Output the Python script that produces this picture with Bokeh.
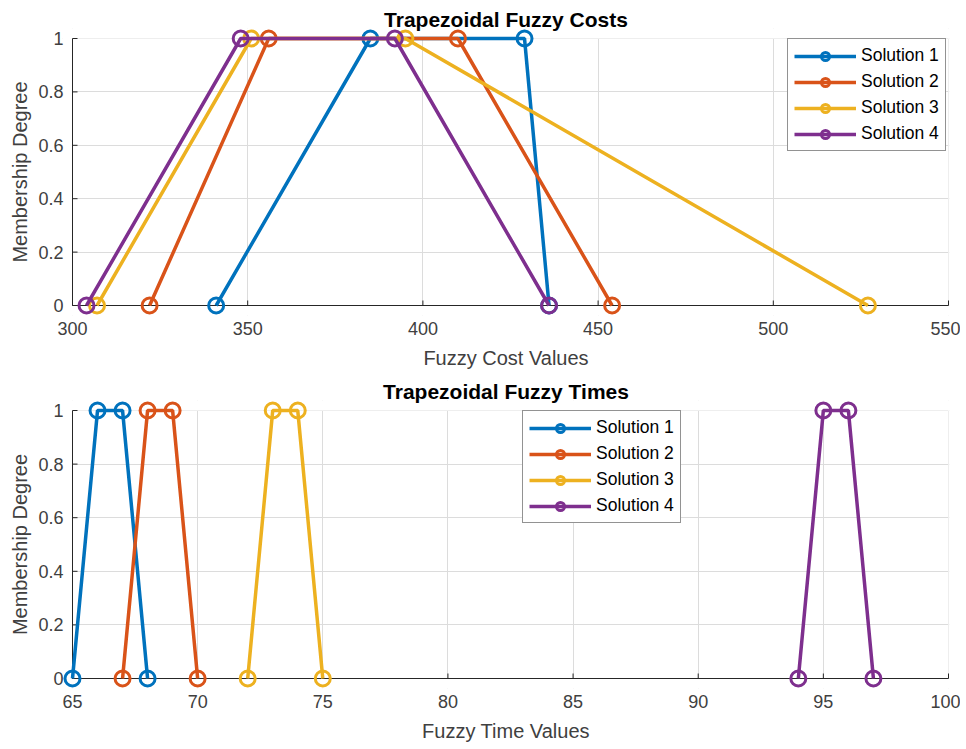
from bokeh.plotting import figure
from bokeh.models import Range1d, FixedTicker, Legend, LegendItem, BoxAnnotation
from bokeh.layouts import column
from bokeh.embed import file_html
from bokeh.resources import INLINE

# ---------------- data ----------------
solutions = ["Solution 1", "Solution 2", "Solution 3", "Solution 4"]
colors = ["#0072BD", "#D95319", "#EDB120", "#7E2F8E"]
membership = [0, 1, 1, 0]

cost_s1 = [341, 385, 429, 436]
cost_s2 = [322, 356, 410, 454]
cost_s3 = [307, 351, 395, 527]
cost_s4 = [304, 348, 392, 436]

time_s1 = [65, 66, 67, 68]
time_s2 = [67, 68, 69, 70]
time_s3 = [72, 73, 74, 75]
time_s4 = [94, 95, 96, 97]

cost_ticks = [300, 350, 400, 450, 500, 550]
time_ticks = [65, 70, 75, 80, 85, 90, 95, 100]
y_ticks = [0, 0.2, 0.4, 0.6, 0.8, 1]
y_tick_labels = ["0", "0.2", "0.4", "0.6", "0.8", "1"]

FONT = "Liberation Sans"
W = 960
B_LEFT, B_RIGHT = 62, 11
PAD = 10          # px of room around the axes so markers are not cut
RPAD = 1          # px right of the last tick so its grid line is drawn
TICK = 5          # px length of inward ticks
AX = "#262626"


def make_panel(title, series, xticks, xlabel, height, b_top, b_bottom, legend_xy):
    fw = W - B_LEFT - B_RIGHT
    fh = height - b_top - b_bottom
    xmin, xmax = xticks[0], xticks[-1]
    xunit = (xmax - xmin) / (fw - PAD - RPAD)
    yunit = 1.0 / (fh - 2 * PAD)
    p = figure(width=W, height=height,
               x_range=Range1d(xmin - PAD * xunit, xmax + RPAD * xunit),
               y_range=Range1d(-PAD * yunit, 1 + PAD * yunit),
               output_backend="svg", toolbar_location=None,
               min_border_left=B_LEFT, min_border_right=B_RIGHT,
               min_border_top=b_top, min_border_bottom=b_bottom)
    p.outline_line_color = None

    p.title.text = title
    p.title.align = "center"
    p.title.offset = 5
    p.title.text_font = FONT
    p.title.text_font_size = "21px"
    p.title.text_font_style = "bold"
    p.title.text_color = "#000000"
    p.title.standoff = -5
    p.title.text_line_height = 1.0

    for ax in (p.xaxis[0], p.yaxis[0]):
        ax.axis_line_color = None
        ax.major_tick_line_color = None
        ax.minor_tick_line_color = None
        ax.major_tick_in = 0
        ax.major_tick_out = 0
        ax.major_label_text_font = FONT
        ax.major_label_text_font_size = "18px"
        ax.major_label_text_color = "#404040"
        ax.axis_label_text_font = FONT
        ax.axis_label_text_font_size = "20px"
        ax.axis_label_text_font_style = "normal"
        ax.axis_label_text_color = "#404040"

    p.xaxis.ticker = FixedTicker(ticks=xticks)
    p.xaxis.major_label_standoff = 6
    p.xaxis.axis_label = xlabel
    p.xaxis.axis_label_standoff = 9

    p.yaxis.ticker = FixedTicker(ticks=y_ticks)
    p.yaxis.major_label_overrides = {t: s for t, s in zip(y_ticks, y_tick_labels)}
    p.yaxis.major_label_standoff = -1
    p.yaxis.axis_label = "Membership Degree"
    p.yaxis.axis_label_standoff = 4

    for g in (p.xgrid[0], p.ygrid[0]):
        g.grid_line_color = "#dcdcdc"
        g.grid_line_width = 1
    p.xgrid.ticker = FixedTicker(ticks=xticks)
    p.ygrid.ticker = FixedTicker(ticks=y_ticks)

    # hide grid overshoot in the padding strips
    for kw in (dict(right=xmin), dict(left=xmax), dict(top=0), dict(bottom=1)):
        p.add_layout(BoxAnnotation(fill_color="white", fill_alpha=1, line_alpha=0,
                                   level="underlay", **kw))

    # axis lines (at x = xmin and y = 0) and inward ticks
    p.segment(x0=[xmin, xmin], y0=[0, 0], x1=[xmax, xmin], y1=[0, 1],
              line_color=AX, line_width=1)
    p.segment(x0=xticks, y0=[0] * len(xticks), x1=xticks,
              y1=[TICK * yunit] * len(xticks), line_color=AX, line_width=1)
    p.segment(x0=[xmin] * len(y_ticks), y0=y_ticks, x1=[xmin + TICK * xunit] * len(y_ticks),
              y1=y_ticks, line_color=AX, line_width=1)

    items = []
    for name, c, xs in zip(solutions, colors, series):
        ln = p.line(xs, membership, line_color=c, line_width=3.5)
        sc = p.scatter(xs, membership, marker="circle", size=15, line_color=c,
                       line_width=3, fill_alpha=0)
        items.append(LegendItem(label=name, renderers=[ln, sc]))

    leg = Legend(items=items, location=legend_xy)
    leg.label_text_font = FONT
    leg.label_text_font_size = "17.5px"
    leg.label_text_color = "#000000"
    leg.border_line_color = AX
    leg.border_line_width = 1
    leg.background_fill_alpha = 1
    leg.padding = 6
    leg.margin = 0
    leg.spacing = 5
    leg.glyph_width = 62
    leg.glyph_height = 20
    leg.label_height = 20
    leg.label_standoff = 5
    p.add_layout(leg)
    return p


p1 = make_panel("Trapezoidal Fuzzy Costs", [cost_s1, cost_s2, cost_s3, cost_s4],
                cost_ticks, "Fuzzy Cost Values", 375, 28, 60, (725, 164))
p2 = make_panel("Trapezoidal Fuzzy Times", [time_s1, time_s2, time_s3, time_s4],
                time_ticks, "Fuzzy Time Values", 372, 25, 59, (460, 165))

layout = column(p1, p2)
open("out.html", "w").write(file_html(layout, INLINE))
